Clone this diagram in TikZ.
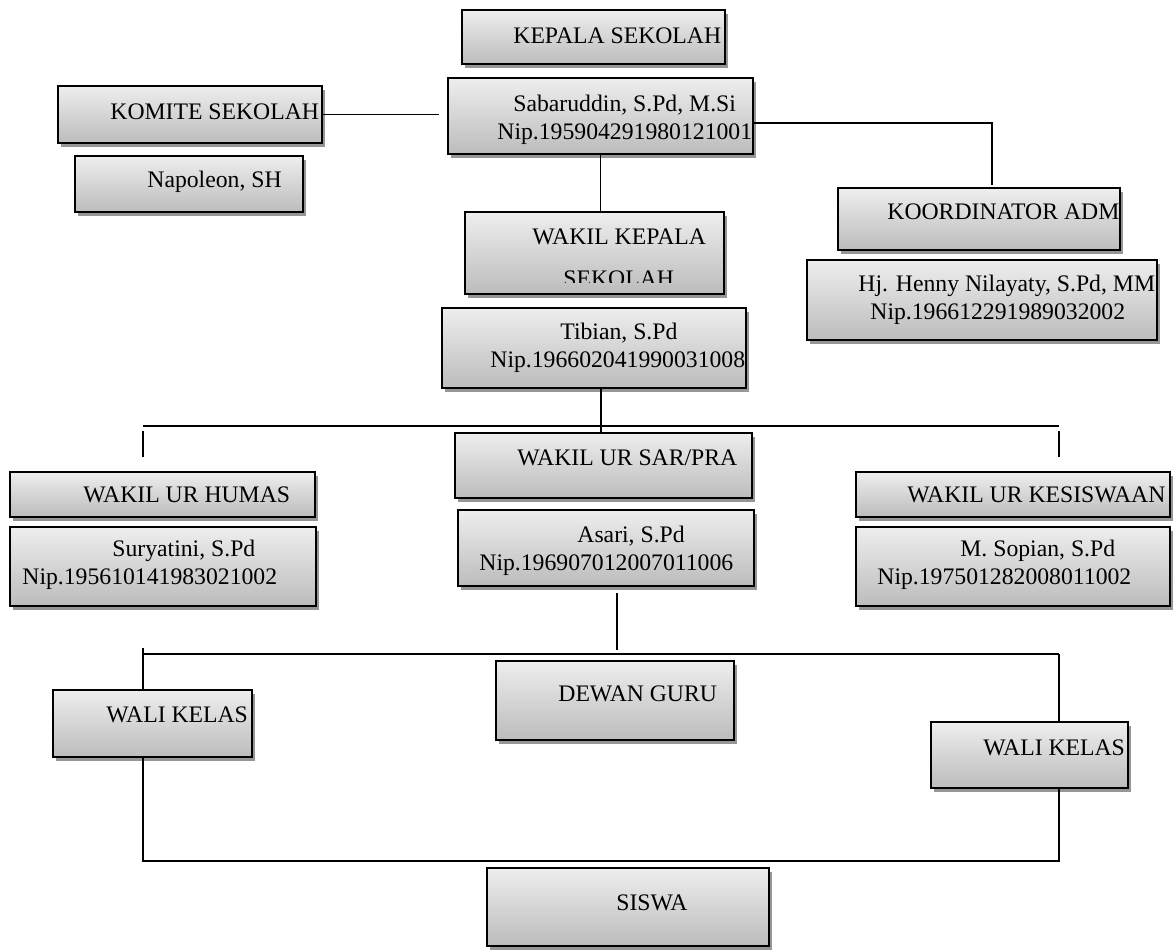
\documentclass[tikz,border=0pt]{standalone}
\usepackage{fontspec}
\setmainfont{Liberation Serif}
\usetikzlibrary{fit,shadows,calc}
\definecolor{boxtop}{RGB}{238,238,238}
\definecolor{boxbot}{RGB}{188,188,188}
\definecolor{shad}{RGB}{150,150,150}
\tikzset{
 orgbox/.style={draw=black, line width=1pt, inner sep=0pt, top color=boxtop, bottom color=boxbot,
   drop shadow={shadow xshift=1.5pt, shadow yshift=-2pt, fill=shad, opacity=1}},
 lbl/.style={inner sep=0pt, anchor=base west, font=\fontsize{11.85}{14}\selectfont},
 conn/.style={line width=0.8pt, draw=black},
}
\newcommand{\mkbox}[5]{%
 \coordinate (#1-a) at (#2,#3);
 \coordinate (#1-b) at (#4,#5);
 \node[orgbox, fit=(#1-a)(#1-b)] (#1) {};}
\begin{document}
\begin{tikzpicture}[x=0.5pt,y=-0.5pt]
\useasboundingbox (0,0) rectangle (1175,952);

% ---------- boxes ----------
\mkbox{kepala}{462}{10}{725}{64}
\node[lbl] (t-kepala) at (513,44) {KEPALA SEKOLAH};

\mkbox{sab}{448}{78}{753}{154}
\node[lbl] (t-sab1) at (513,112) {Sabaruddin, S.Pd, M.Si};
\node[lbl] (t-sab2) at (497,140) {Nip.195904291980121001};

\mkbox{komite}{58}{86}{322}{143}
\node[lbl] (t-komite) at (110,120) {KOMITE SEKOLAH};

\mkbox{napo}{75}{156}{303}{212}
\node[lbl] (t-napo) at (147,188) {Napoleon, SH};

\mkbox{koord}{838}{188}{1120}{250}
\node[lbl] (t-koord) at (887,220) {KOORDINATOR ADM};

\mkbox{henny}{807}{260}{1157}{340}
\node[lbl] (t-henny1) at (858,292) {Hj. Henny Nilayaty, S.Pd, MM};
\node[lbl] (t-henny2) at (870,320) {Nip.196612291989032002};

\mkbox{wk}{465}{212}{724}{294}
\node[lbl] (t-wk1) at (532,245) {WAKIL KEPALA};
\begin{scope}
 \clip (465,212) rectangle (724,283);
 \node[lbl] (t-wk2) at (563,287) {SEKOLAH};
\end{scope}

\mkbox{tib}{442}{308}{746}{388}
\node[lbl] (t-tib1) at (560,340) {Tibian, S.Pd};
\node[lbl] (t-tib2) at (490,368) {Nip.196602041990031008};

\mkbox{sar}{455}{433}{752}{498}
\node[lbl] (t-sar) at (517,466) {WAKIL UR SAR/PRA};

\mkbox{asari}{458}{510}{754}{586}
\node[lbl] (t-asari1) at (577,543) {Asari, S.Pd};
\node[lbl] (t-asari2) at (479,571) {Nip.196907012007011006};

\mkbox{humas}{10}{472}{315}{517}
\node[lbl] (t-humas) at (83,503) {WAKIL UR HUMAS};

\mkbox{sury}{10}{527}{316}{606}
\node[lbl] (t-sury1) at (112,557) {Suryatini, S.Pd};
\node[lbl] (t-sury2) at (22,585) {Nip.195610141983021002};

\mkbox{kesis}{856}{472}{1170}{517}
\node[lbl] (t-kesis) at (907,503) {WAKIL UR KESISWAAN};

\mkbox{sopian}{856}{527}{1170}{606}
\node[lbl] (t-sop1) at (960,557) {M. Sopian, S.Pd};
\node[lbl] (t-sop2) at (877,585) {Nip.197501282008011002};

\mkbox{dewan}{496}{661}{734}{740}
\node[lbl] (t-dewan) at (558,702) {DEWAN GURU};

\mkbox{walil}{53}{690}{252}{757}
\node[lbl] (t-walil) at (106,723) {WALI KELAS};

\mkbox{walir}{931}{722}{1128}{788}
\node[lbl] (t-walir) at (983,755) {WALI KELAS};

\mkbox{siswa}{487}{868}{769}{946}
\node[lbl] (t-siswa) at (616,910) {SISWA};

% ---------- junction coordinates ----------
\coordinate (kk) at (992,123);
\coordinate (kk2) at (992,185);
\coordinate (h1l) at (143,426);
\coordinate (h1r) at (1059,426);
\coordinate (h1c) at (601,426);
\coordinate (tl1) at (143,431);
\coordinate (tl2) at (143,457);
\coordinate (tr1) at (1059,431);
\coordinate (tr2) at (1059,457);
\coordinate (a1) at (617,593);
\coordinate (a2) at (617,650);
\coordinate (h2l) at (143,654);
\coordinate (h2r) at (1059,654);
\coordinate (l0) at (143,648);
\coordinate (l1) at (143,690);
\coordinate (l2) at (143,757);
\coordinate (bl) at (143,861);
\coordinate (br) at (1059,861);
\coordinate (r1) at (1059,722);
\coordinate (r2) at (1059,788);

% ---------- connectors ----------
\draw[conn, shorten >=4pt] (komite.east) -- (komite.east -| sab.west);
\draw[conn] (sab.east |- kk) -- (kk) -- (kk2);
\draw[conn] (sab.south) -- (sab.south |- wk.north);
\draw[conn] (h1c |- tib.south) -- (h1c |- sar.north);
\draw[conn] (h1l) -- (h1r);
\draw[conn] (tl1) -- (tl2);
\draw[conn] (tr1) -- (tr2);
\draw[conn] (a1) -- (a2);
\draw[conn] (h2l) -- (h2r);
\draw[conn] (l0) -- (l1 |- walil.north);
\draw[conn] (l2 |- walil.south) -- (bl) -- (br) -- (r2 |- walir.south);
\draw[conn] (r1 |- walir.north) -- (h2r);
\end{tikzpicture}
\end{document}
